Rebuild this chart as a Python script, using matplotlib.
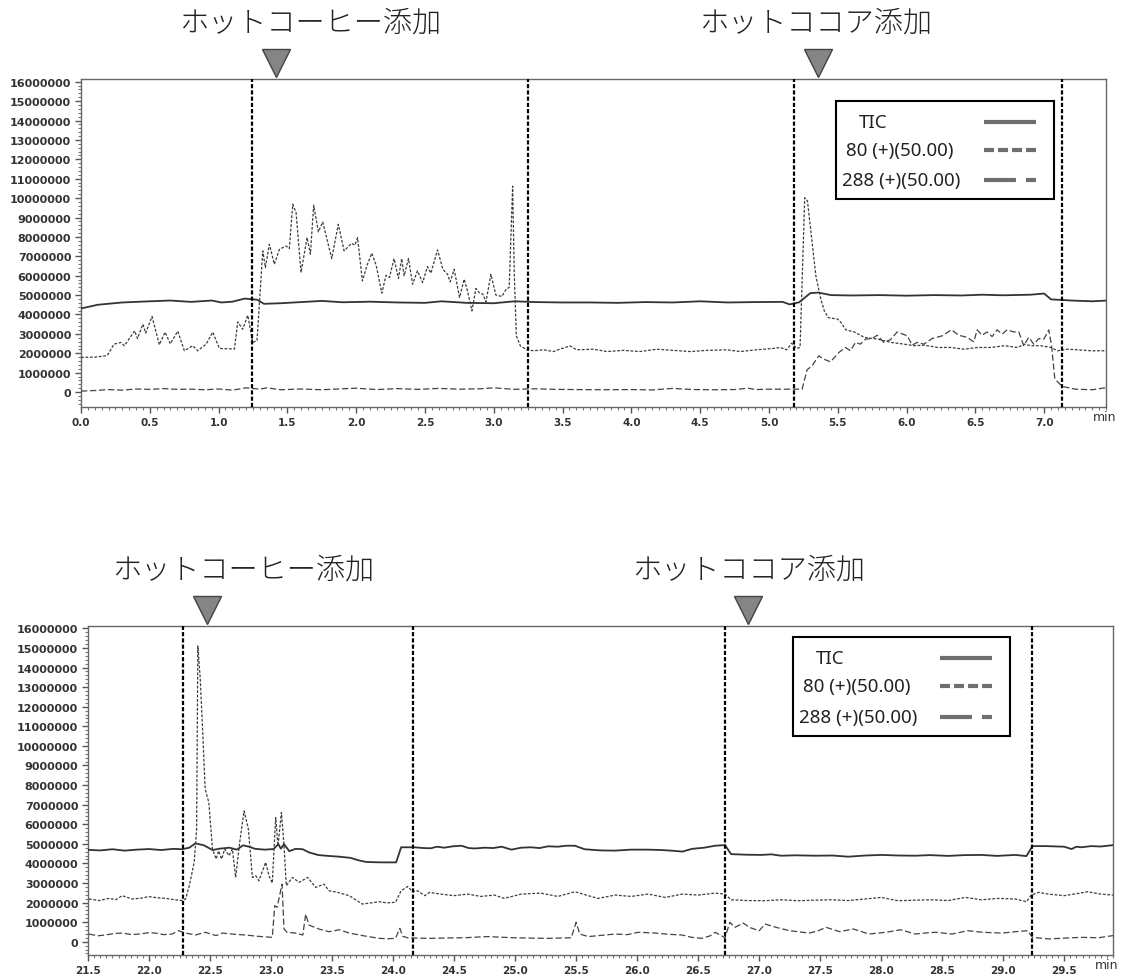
import matplotlib
matplotlib.use("Agg")
import matplotlib.pyplot as plt
from matplotlib.ticker import MultipleLocator, FuncFormatter
from matplotlib.patches import Rectangle
from matplotlib.lines import Line2D
from matplotlib.transforms import blended_transform_factory

plt.rcParams['lines.scale_dashes'] = False

# values are in millions of counts, times in minutes

# upper run
top_t_tic = [0.0, 0.12, 0.3, 0.5, 0.65, 0.8, 0.95, 1.02, 1.1, 1.19, 1.28, 1.33, 1.45, 1.6, 1.75,
             1.9, 2.1, 2.3, 2.5, 2.62, 2.8, 3.0, 3.15, 3.3, 3.5, 3.7, 3.9, 4.1, 4.3, 4.5, 4.7,
             4.9, 5.1, 5.15, 5.22, 5.3, 5.36, 5.45, 5.6, 5.8, 6.0, 6.2, 6.4, 6.55, 6.7, 6.9,
             7.0, 7.05, 7.2, 7.35, 7.46]
top_tic = [4.31, 4.50, 4.62, 4.68, 4.72, 4.65, 4.72, 4.62, 4.66, 4.82, 4.76, 4.55, 4.58, 4.64, 4.70,
           4.63, 4.66, 4.62, 4.60, 4.68, 4.60, 4.58, 4.68, 4.64, 4.62, 4.62, 4.60, 4.64, 4.62, 4.68, 4.62,
           4.64, 4.65, 4.52, 4.63, 5.10, 5.13, 5.00, 4.98, 5.00, 4.97, 5.00, 4.98, 5.02, 4.99, 5.02,
           5.08, 4.78, 4.72, 4.68, 4.72]

top_t_80 = [0.0, 0.10, 0.19, 0.24, 0.29, 0.315, 0.34, 0.39, 0.41, 0.45, 0.47, 0.516, 0.569, 0.611,
            0.649, 0.703, 0.751, 0.812, 0.848, 0.909, 0.957, 1.006, 1.115, 1.139, 1.175, 1.212,
            1.248, 1.279, 1.321, 1.340, 1.369, 1.405, 1.442, 1.490, 1.514, 1.539, 1.563, 1.599,
            1.643, 1.667, 1.691, 1.725, 1.757, 1.822, 1.87, 1.912, 1.967, 1.99, 2.01, 2.045, 2.077,
            2.113, 2.145, 2.186, 2.217, 2.242, 2.275, 2.307, 2.331, 2.348, 2.38, 2.41, 2.445, 2.483,
            2.518, 2.543, 2.591, 2.63, 2.664, 2.683, 2.712, 2.751, 2.785, 2.812, 2.841, 2.87, 2.897,
            2.921, 2.943, 2.979, 3.015, 3.059, 3.09, 3.112, 3.137, 3.149, 3.164, 3.193, 3.241, 3.29,
            3.363, 3.434, 3.48, 3.555, 3.603, 3.724, 3.821, 3.942, 4.063, 4.184, 4.306, 4.427, 4.548,
            4.693, 4.79, 4.911, 5.032, 5.081, 5.129, 5.165, 5.202, 5.226, 5.26, 5.28, 5.317, 5.341,
            5.377, 5.402, 5.431, 5.499, 5.523, 5.559, 5.62, 5.693, 5.79, 5.887, 5.984, 6.056, 6.129,
            6.226, 6.322, 6.419, 6.516, 6.613, 6.71, 6.807, 6.855, 6.904, 6.976, 7.049, 7.097, 7.17,
            7.243, 7.34, 7.46]
top_80 = [1.79, 1.80, 1.88, 2.47, 2.56, 2.39, 2.65, 3.16, 2.76, 3.50, 3.04, 3.90, 2.44, 3.09,
          2.49, 3.14, 2.13, 2.39, 2.13, 2.47, 3.09, 2.25, 2.22, 3.62, 3.24, 3.96,
          2.56, 2.65, 7.28, 6.42, 7.62, 6.59, 7.36, 7.53, 7.40, 9.68, 9.25, 6.16,
          7.97, 7.11, 9.63, 8.26, 8.77, 6.88, 8.65, 7.28, 7.67, 7.57, 7.96, 5.73, 6.50,
          7.16, 6.54, 5.10, 6.02, 5.91, 6.88, 5.86, 6.88, 6.00, 6.88, 5.56, 6.25, 5.65,
          6.47, 6.13, 7.33, 6.33, 6.07, 5.68, 6.33, 4.88, 5.82, 5.13, 4.19, 5.34, 5.10,
          5.05, 4.65, 6.07, 5.00, 4.93, 5.31, 5.39, 10.62, 6.07, 2.90, 2.38, 2.18, 2.13,
          2.18, 2.09, 2.21, 2.38, 2.18, 2.21, 2.09, 2.15, 2.09, 2.21, 2.15, 2.09, 2.15,
          2.18, 2.09, 2.18, 2.25, 2.30, 2.18, 2.52, 2.25, 2.30, 10.02, 9.85, 7.53, 5.99,
          4.79, 4.19, 3.84, 3.76, 3.59, 3.21, 3.10, 2.82, 2.73, 2.56, 2.47, 2.39, 2.42,
          2.30, 2.30, 2.21, 2.30, 2.30, 2.39, 2.30, 2.47, 2.39, 2.39, 2.30, 2.13, 2.21,
          2.18, 2.13, 2.13]

top_t_288 = [0.0, 0.1, 0.2, 0.3, 0.4, 0.5, 0.6, 0.7, 0.8, 0.9, 1.0, 1.1, 1.2, 1.3, 1.35, 1.45,
             1.6, 1.75, 1.9, 2.0, 2.15, 2.3, 2.45, 2.6, 2.75, 2.9, 3.0, 3.15, 3.3, 3.45, 3.6,
             3.8, 4.0, 4.15, 4.3, 4.45, 4.6, 4.75, 4.85, 4.9, 5.0, 5.15, 5.241, 5.277, 5.314,
             5.362, 5.398, 5.447, 5.508, 5.556, 5.592, 5.629, 5.665, 5.702, 5.75, 5.787, 5.835,
             5.883, 5.932, 6.005, 6.041, 6.077, 6.126, 6.186, 6.259, 6.327, 6.38, 6.441, 6.489,
             6.513, 6.549, 6.586, 6.622, 6.658, 6.695, 6.731, 6.779, 6.816, 6.852, 6.888, 6.925,
             6.961, 6.998, 7.034, 7.054, 7.078, 7.131, 7.228, 7.35, 7.46]
top_288 = [0.05, 0.08, 0.13, 0.10, 0.16, 0.14, 0.18, 0.14, 0.15, 0.12, 0.16, 0.10, 0.22, 0.15, 0.22, 0.12,
           0.16, 0.12, 0.17, 0.20, 0.13, 0.18, 0.14, 0.19, 0.15, 0.17, 0.22, 0.14, 0.17, 0.14, 0.13,
           0.12, 0.13, 0.11, 0.19, 0.13, 0.12, 0.13, 0.20, 0.13, 0.15, 0.15, 0.15, 1.15, 1.36,
           1.87, 1.70, 1.56, 2.04, 2.30, 2.13, 2.56, 2.47, 2.73, 2.76, 2.93, 2.56,
           2.70, 3.10, 2.90, 2.42, 2.56, 2.47, 2.76, 2.90, 3.21, 2.93, 2.82, 2.59,
           3.21, 2.93, 3.10, 2.86, 3.21, 2.99, 3.21, 3.10, 3.10, 2.39, 2.82, 2.47,
           2.76, 2.73, 3.21, 2.39, 0.67, 0.29, 0.15, 0.12, 0.24]

# lower run
bot_t_tic = [21.5, 21.6, 21.7, 21.8, 21.9, 22.0, 22.1, 22.2, 22.27, 22.33, 22.38, 22.45, 22.52, 22.58,
             22.66, 22.72, 22.77, 22.82, 22.87, 22.95, 23.02, 23.06, 23.08, 23.106, 23.15, 23.2, 23.26,
             23.31, 23.39, 23.47, 23.56, 23.65, 23.72, 23.78, 23.9, 24.025, 24.066, 24.175, 24.25,
             24.31, 24.36, 24.42, 24.49, 24.56, 24.62, 24.67, 24.75, 24.82, 24.89, 24.97, 25.05,
             25.13, 25.2, 25.27, 25.35, 25.42, 25.49, 25.57, 25.7, 25.82, 25.95, 26.09, 26.2, 26.3,
             26.37, 26.45, 26.55, 26.64, 26.72, 26.77, 26.9, 27.02, 27.1, 27.18, 27.3, 27.46, 27.6,
             27.73, 27.87, 28.0, 28.14, 28.28, 28.4, 28.55, 28.68, 28.82, 28.95, 29.1, 29.19, 29.24,
             29.35, 29.5, 29.56, 29.6, 29.64, 29.72, 29.8, 29.9]
bot_tic = [4.69, 4.66, 4.72, 4.65, 4.70, 4.73, 4.68, 4.74, 4.72, 4.80, 5.02, 4.92, 4.68, 4.75,
           4.80, 4.70, 4.92, 4.85, 4.74, 4.70, 4.73, 4.98, 4.75, 4.98, 4.62, 4.74, 4.72,
           4.56, 4.42, 4.38, 4.34, 4.28, 4.15, 4.07, 4.05, 4.05, 4.82, 4.82, 4.78,
           4.77, 4.85, 4.80, 4.87, 4.90, 4.78, 4.76, 4.80, 4.78, 4.85, 4.70, 4.80,
           4.82, 4.78, 4.87, 4.85, 4.90, 4.90, 4.72, 4.66, 4.65, 4.70, 4.70, 4.68, 4.64,
           4.60, 4.74, 4.80, 4.90, 4.93, 4.47, 4.44, 4.43, 4.46, 4.39, 4.41, 4.39, 4.40,
           4.34, 4.40, 4.43, 4.40, 4.39, 4.42, 4.38, 4.42, 4.43, 4.38, 4.43, 4.37, 4.88,
           4.88, 4.85, 4.73, 4.85, 4.82, 4.88, 4.86, 4.93]

bot_t_80 = [21.508, 21.59, 21.67, 21.73, 21.78, 21.86, 21.93, 22.0, 22.07, 22.14, 22.2, 22.27, 22.30,
            22.33, 22.37, 22.39, 22.40, 22.42, 22.44, 22.46, 22.49, 22.52, 22.55, 22.57, 22.595,
            22.62, 22.656, 22.683, 22.71, 22.743, 22.779, 22.814, 22.847, 22.874, 22.9, 22.956,
            22.983, 23.01, 23.038, 23.057, 23.085, 23.106, 23.125, 23.175, 23.23, 23.30, 23.366,
            23.434, 23.475, 23.544, 23.64, 23.748, 23.885, 23.95, 24.02, 24.066, 24.12, 24.16, 24.2,
            24.26, 24.30, 24.39, 24.5, 24.61, 24.72, 24.83, 24.91, 25.05, 25.21, 25.35, 25.49, 25.6,
            25.68, 25.82, 25.95, 26.09, 26.23, 26.37, 26.50, 26.64, 26.72, 26.77, 26.9, 27.04, 27.18,
            27.32, 27.45, 27.59, 27.73, 27.87, 28.0, 28.14, 28.28, 28.41, 28.55, 28.69, 28.82, 28.96,
            29.1, 29.19, 29.23, 29.29, 29.37, 29.5, 29.6, 29.69, 29.8, 29.9]
bot_80 = [2.18, 2.10, 2.21, 2.15, 2.35, 2.18, 2.22, 2.30, 2.24, 2.21, 2.15, 2.10, 2.18,
          2.86, 4.05, 5.75, 15.1, 13.4, 10.68, 7.79, 7.11, 4.73, 4.22, 4.64, 4.22,
          4.73, 4.39, 4.73, 3.28, 5.07, 6.68, 5.75, 3.28, 3.37, 3.11, 4.05,
          3.37, 2.99, 6.34, 4.90, 6.60, 4.90, 2.86, 3.28, 3.03, 3.28, 2.77,
          2.94, 2.60, 2.52, 2.35, 1.92, 2.04, 1.98, 2.01, 2.60, 2.82, 2.55, 2.60,
          2.35, 2.52, 2.43, 2.35, 2.43, 2.31, 2.38, 2.21, 2.43, 2.48, 2.31, 2.55, 2.35,
          2.21, 2.38, 2.31, 2.43, 2.26, 2.43, 2.38, 2.48, 2.43, 2.14, 2.10, 2.09, 2.14,
          2.09, 2.12, 2.14, 2.10, 2.18, 2.26, 2.09, 2.12, 2.14, 2.10, 2.26, 2.14, 2.21,
          2.18, 2.04, 2.38, 2.52, 2.43, 2.35, 2.45, 2.55, 2.43, 2.38]

bot_t_288 = [21.508, 21.58, 21.64, 21.72, 21.78, 21.86, 21.92, 22.0, 22.05, 22.12, 22.19, 22.24, 22.30,
             22.38, 22.46, 22.55, 22.60, 22.68, 22.79, 22.9, 23.01, 23.03, 23.05, 23.07, 23.09, 23.106,
             23.13, 23.2, 23.26, 23.284, 23.31, 23.39, 23.475, 23.56, 23.64, 23.75, 23.885, 23.96,
             24.02, 24.055, 24.08, 24.12, 24.21, 24.31, 24.45, 24.58, 24.77, 24.99, 25.15, 25.27,
             25.46, 25.50, 25.53, 25.60, 25.7, 25.82, 25.92, 26.01, 26.15, 26.25, 26.37, 26.45, 26.53,
             26.6, 26.64, 26.72, 26.76, 26.80, 26.87, 26.92, 27.0, 27.05, 27.14, 27.25, 27.33, 27.41,
             27.48, 27.55, 27.66, 27.77, 27.9, 28.04, 28.16, 28.28, 28.37, 28.45, 28.58, 28.71, 28.83,
             28.99, 29.1, 29.2, 29.24, 29.37, 29.5, 29.64, 29.78, 29.9]
bot_288 = [0.39, 0.30, 0.34, 0.42, 0.44, 0.36, 0.39, 0.46, 0.44, 0.36, 0.39, 0.56, 0.44,
           0.34, 0.48, 0.31, 0.44, 0.39, 0.34, 0.27, 0.22, 1.84, 1.76, 2.35, 2.94, 0.65,
           0.48, 0.44, 0.34, 1.41, 0.85, 0.65, 0.51, 0.61, 0.44, 0.31, 0.17, 0.15,
           0.17, 0.68, 0.27, 0.20, 0.18, 0.17, 0.19, 0.20, 0.26, 0.20, 0.18, 0.17,
           0.20, 0.99, 0.39, 0.26, 0.32, 0.39, 0.36, 0.48, 0.44, 0.38, 0.34, 0.22, 0.17,
           0.30, 0.48, 0.20, 0.99, 0.73, 0.95, 0.73, 0.56, 0.90, 0.73, 0.56, 0.50, 0.44,
           0.55, 0.73, 0.51, 0.65, 0.39, 0.48, 0.61, 0.39, 0.45, 0.48, 0.39, 0.56, 0.48,
           0.44, 0.51, 0.56, 0.22, 0.14, 0.18, 0.22, 0.20, 0.31]

top_events = [1.24, 3.25, 5.18, 7.13]
bot_events = [22.28, 24.16, 26.72, 29.24]
top_marks = [1.414, 5.357]
bot_marks = [22.475, 26.91]
top_label_t = [1.665, 5.336]
bot_label_t = [22.775, 26.914]
event_labels = ["ホットコーヒー添加", "ホットココア添加"]
legend_labels = ["TIC", "80 (+)(50.00)", "288 (+)(50.00)"]

fig = plt.figure(figsize=(11.27, 9.78), dpi=100)
ax_top = fig.add_axes([0.0719, 0.5828, 0.9095, 0.3354])
ax_bot = fig.add_axes([0.0781, 0.0225, 0.9095, 0.3364])

dash80 = (0, (2.0, 1.2))
dash288 = (0, (4.5, 2.0))


def draw_panel(ax, t_tic, tic, t80, s80, t288, s288, xlim, ylim, xstart, xend,
               events, marks, label_t, box, minx):
    ax.plot(t_tic, [v * 1e6 for v in tic], color="#333333", lw=1.3, zorder=3)
    ax.plot(t80, [v * 1e6 for v in s80], color="#3c3c3c", lw=0.9, ls=dash80, zorder=3)
    ax.plot(t288, [v * 1e6 for v in s288], color="#444444", lw=0.9, ls=dash288, zorder=3)
    for e in events:
        ax.axvline(e, color="black", lw=1.6, ls=(0, (3.0, 1.5)), zorder=4)

    ax.set_xlim(*xlim)
    ax.set_ylim(*ylim)
    ax.set_xticks([xstart + 0.5 * i for i in range(int(round((xend - xstart) / 0.5)) + 1)])
    ax.xaxis.set_minor_locator(MultipleLocator(0.05))
    ax.set_yticks([i * 1e6 for i in range(17)])
    ax.yaxis.set_minor_locator(MultipleLocator(2e5))
    ax.xaxis.set_major_formatter(FuncFormatter(lambda v, p: "%.1f" % v))
    ax.yaxis.set_major_formatter(FuncFormatter(lambda v, p: "%d" % round(v)))
    ax.tick_params(which="major", length=4, width=1, color="#555555", pad=3,
                   labelcolor="#333333")
    ax.tick_params(axis="y", which="major", labelsize=8)
    ax.tick_params(axis="x", which="major", labelsize=7.5)
    ax.tick_params(which="minor", length=2, width=0.8, color="#777777")
    for lab in ax.get_yticklabels() + ax.get_xticklabels():
        lab.set_fontweight("bold")
        lab.set_family("DejaVu Sans")
    for sp in ax.spines.values():
        sp.set_color("#666666")
        sp.set_linewidth(1.0)

    ax.text(minx, -0.03, "min", transform=ax.transAxes, ha="center", va="center",
            fontsize=9, color="#333333", family="DejaVu Sans")

    tr = blended_transform_factory(ax.transData, ax.transAxes)
    for m, lt, lab in zip(marks, label_t, event_labels):
        ax.plot([m], [1.05], marker="v", ms=20, color="#858585", mec="#444444", mew=1,
                transform=tr, clip_on=False)
        ax.text(lt, 1.172, lab, transform=tr, ha="center", va="center", fontsize=21,
                family=["Noto Sans CJK JP", "DejaVu Sans"], weight="light", color="#222222")

    # legend box (labels left, line samples right)
    x0, y0, w, h = box
    ax.add_patch(Rectangle((x0, y0), w, h, transform=ax.transAxes, facecolor="white",
                           edgecolor="black", lw=1.5, zorder=6))
    text_dx = [0.105, 0.045, 0.027]
    rows = [0.79, 0.50, 0.19]
    styles = ["-", (0, (7.2, 2.9)), (0, (23.0, 7.2, 7.2, 7.2))]
    for lab, dx, r, st in zip(legend_labels, text_dx, rows, styles):
        ax.text(x0 + dx * w, y0 + r * h, lab, transform=ax.transAxes, ha="left",
                va="center", fontsize=13.5, family="Noto Sans", color="#222222", zorder=7)
        ax.add_line(Line2D([x0 + 0.678 * w, x0 + 0.918 * w], [y0 + r * h, y0 + r * h],
                           transform=ax.transAxes, color="#6e6e6e", lw=3, ls=st,
                           solid_capstyle="butt", dash_capstyle="butt", zorder=7))


draw_panel(ax_top, top_t_tic, top_tic, top_t_80, top_80, top_t_288, top_288,
           (0.0, 7.45), (-0.77e6, 16.14e6), 0.0, 7.0,
           top_events, top_marks, top_label_t, (0.7366, 0.634, 0.2127, 0.299), 0.999)
draw_panel(ax_bot, bot_t_tic, bot_tic, bot_t_80, bot_80, bot_t_288, bot_288,
           (21.5, 29.9), (-0.68e6, 16.12e6), 21.5, 29.5,
           bot_events, bot_marks, bot_label_t, (0.688, 0.6657, 0.2115, 0.3009), 0.994)

fig.savefig("out.png", dpi=100)
